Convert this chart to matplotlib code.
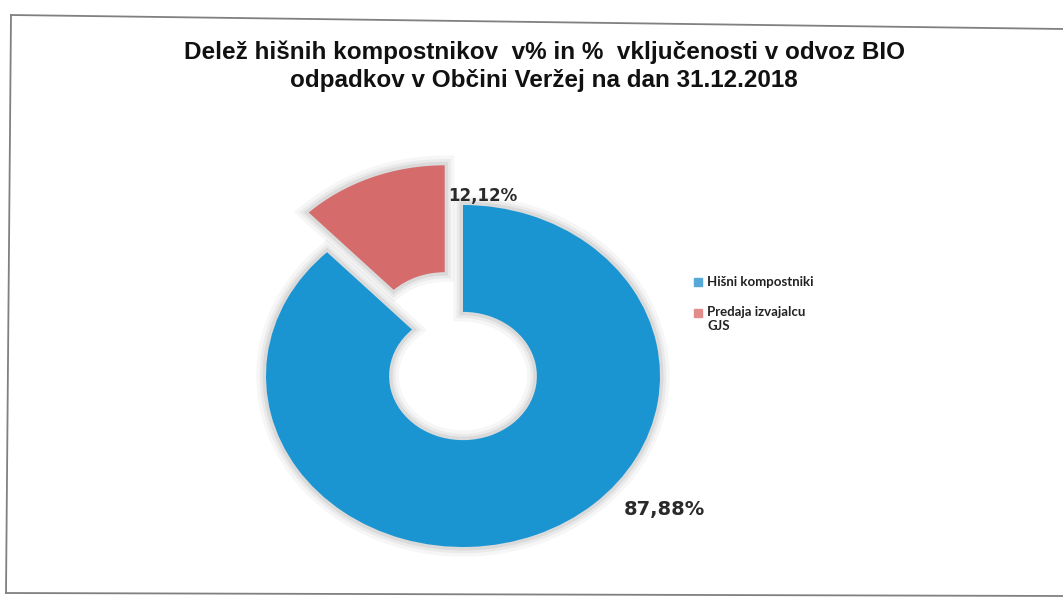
import numpy as np
import matplotlib
matplotlib.use('Agg')
import matplotlib.pyplot as plt
from matplotlib.lines import Line2D
from matplotlib.patches import Rectangle

# data
labels = ['Hišni kompostniki', 'Predaja izvajalcu\nGJS']
values = [87.88, 12.12]
value_text = ['87,88%', '12,12%']
colors = ['#1b95d2', '#d56b6b']
legend_colors = ['#55a8d8', '#e38c8c']
title = 'Delež hišnih kompostnikov  v% in %  vključenosti v odvoz BIO\nodpadkov v Občini Veržej na dan 31.12.2018'

W, H = 1063, 598
fig = plt.figure(figsize=(W / 100, H / 100), dpi=100)
fig.patch.set_facecolor('white')

# donut is slightly squashed in the scan -> separate x / y pixel radii
cx, cy = 463, 376
rx, ry = 197, 171
ax = fig.add_axes([0, 0, 1, 1])
explode = [0, 0.25]

# soft grey halo (shadow) behind the wedges
for lw, a in [(14, 0.05), (9, 0.07), (5, 0.10)]:
    ax.pie(values, startangle=90, counterclock=False, explode=explode,
           colors=['none', 'none'],
           wedgeprops=dict(width=0.625, edgecolor='#555555', linewidth=lw, alpha=a))
wedges, _ = ax.pie(values, startangle=90, counterclock=False, explode=explode,
                   colors=colors, wedgeprops=dict(width=0.625, linewidth=0))

ax.set_aspect('auto')
ax.set_xlim(-cx / rx, (W - cx) / rx)
ax.set_ylim(-(H - cy) / ry, cy / ry)
ax.axis('off')

# value labels
ax.text((664 - cx) / rx, (cy - 509) / ry, value_text[0], ha='center', va='center',
        fontsize=14, fontweight='bold', color='#2a2a2a')
ax.text((483 - cx) / rx, (cy - 196) / ry, value_text[1], ha='center', va='center',
        fontsize=12, fontweight='bold', color='#2a2a2a')

# title
fig.text(544 / W, 1 - 66 / H, title, ha='center', va='center', fontsize=17.5,
         fontweight='bold', family=['Liberation Sans', 'DejaVu Sans'],
         linespacing=1.25, color='#111111')

# legend
leg_y = [282, 313]
for i, lab in enumerate(labels):
    fig.patches.append(Rectangle((694 / W, 1 - (leg_y[i] + 4) / H), 8 / W, 8 / H,
                                 transform=fig.transFigure, color=legend_colors[i]))
    fig.text(707 / W, 1 - (leg_y[i] - 7 if i else leg_y[i]) / H, lab, ha='left',
             va='top' if i else 'center', multialignment='left',
             fontsize=9.5, fontweight='bold', family=['Lato', 'DejaVu Sans'],
             color='#222222', linespacing=1.2)

# scanned frame around the chart
def px(x, y):
    return x / W, 1 - y / H

for (x0, y0), (x1, y1) in [((11, 15), (1063, 29)), ((11, 15), (6, 593)), ((6, 593), (1063, 596))]:
    (a0, b0), (a1, b1) = px(x0, y0), px(x1, y1)
    fig.add_artist(Line2D([a0, a1], [b0, b1], transform=fig.transFigure,
                          color='#808080', linewidth=1.3))

fig.savefig('out.png', dpi=100)
